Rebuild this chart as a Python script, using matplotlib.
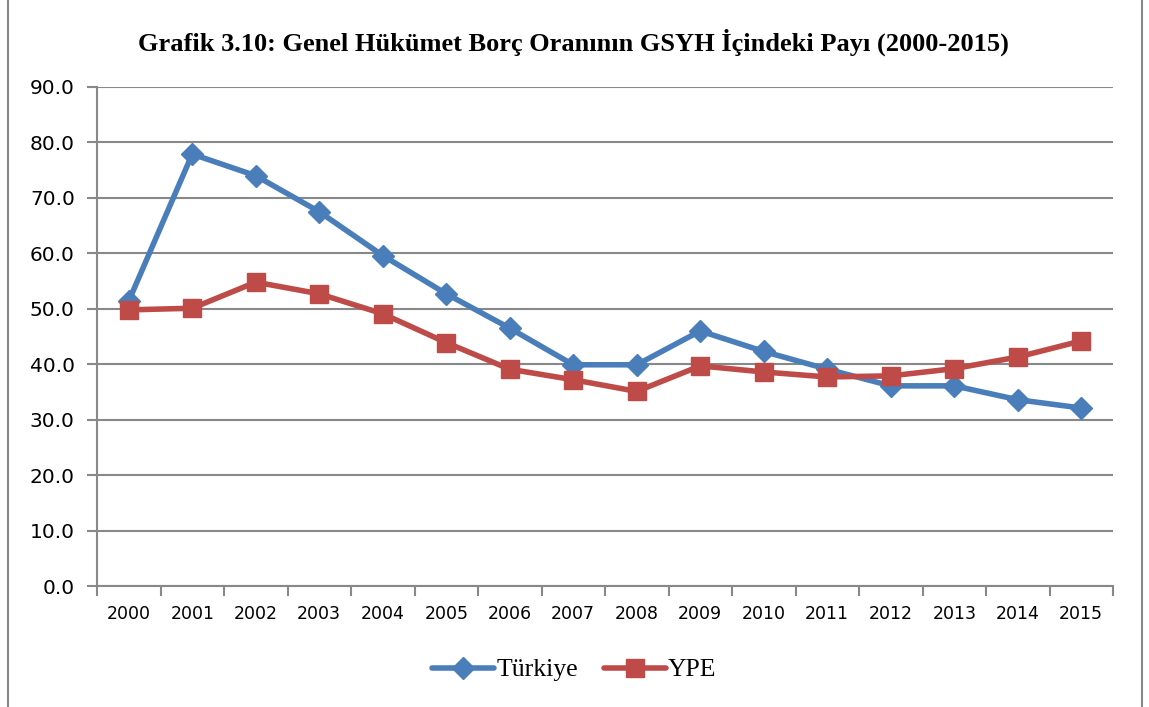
import matplotlib
matplotlib.use("Agg")
import matplotlib.pyplot as plt
from matplotlib.patches import Rectangle

years = ["2000", "2001", "2002", "2003", "2004", "2005", "2006", "2007",
         "2008", "2009", "2010", "2011", "2012", "2013", "2014", "2015"]
turkiye = [51.4, 77.9, 74.0, 67.5, 59.6, 52.7, 46.5, 39.9,
           39.9, 46.0, 42.3, 39.1, 36.1, 36.1, 33.6, 32.1]
ype = [49.8, 50.1, 54.8, 52.7, 49.1, 43.9, 39.1, 37.2,
       35.1, 39.7, 38.6, 37.7, 37.9, 39.2, 41.3, 44.2]

W, H = 1149, 707
fig = plt.figure(figsize=(W / 100, H / 100), dpi=100)
ax = fig.add_axes([97 / W, 1 - 586 / H, (1113 - 97) / W, (586 - 87) / H])

BLUE = "#4A7EBB"
RED = "#BE4B48"
GRID = "#888888"

x = list(range(len(years)))
ax.plot(x, turkiye, color=BLUE, lw=4, marker="D", ms=11, label="Türkiye",
        solid_capstyle="round", zorder=3)
ax.plot(x, ype, color=RED, lw=4, marker="s", ms=13, label="YPE",
        solid_capstyle="round", zorder=3)

ax.set_xlim(-0.5, len(years) - 0.5)
ax.set_ylim(0, 90)
ax.set_yticks(range(0, 91, 10))
ax.set_yticklabels([f"{v:.1f}" for v in range(0, 91, 10)], fontsize=14.5,
                   family="DejaVu Sans")
ax.set_xticks(x)
ax.set_xticklabels(years, fontsize=12.5, family="DejaVu Sans")
ax.set_xticks([i - 0.5 for i in range(len(years) + 1)], minor=True)
ax.tick_params(axis="x", which="major", length=0, pad=14)
ax.tick_params(axis="x", which="minor", length=7, color=GRID, width=1.5)
ax.tick_params(axis="y", length=7, color=GRID, width=1.5, pad=9)
ax.grid(axis="y", color=GRID, lw=1.5)
ax.set_axisbelow(True)
for s in ["top", "right"]:
    ax.spines[s].set_visible(False)
for s in ["left", "bottom"]:
    ax.spines[s].set_color(GRID)
    ax.spines[s].set_linewidth(1.5)

fig.text(0.499, 1 - 42 / H,
         "Grafik 3.10: Genel Hükümet Borç Oranının GSYH İçindeki Payı (2000-2015)",
         ha="center", va="center", fontsize=19, fontweight="bold",
         family="Liberation Serif")

fig.legend(loc="center", bbox_to_anchor=(0.5, 1 - 670 / H), ncol=2, frameon=False,
           prop={"family": "Liberation Serif", "size": 18.5}, handlelength=2.4,
           handletextpad=0.1, columnspacing=1.0)

fig.patches.append(Rectangle((8 / W, -0.01), (1142 - 8) / W, 1.02,
                             transform=fig.transFigure, fill=False,
                             ec="#888888", lw=1.5))

fig.savefig("out.png", dpi=100, facecolor="white")
